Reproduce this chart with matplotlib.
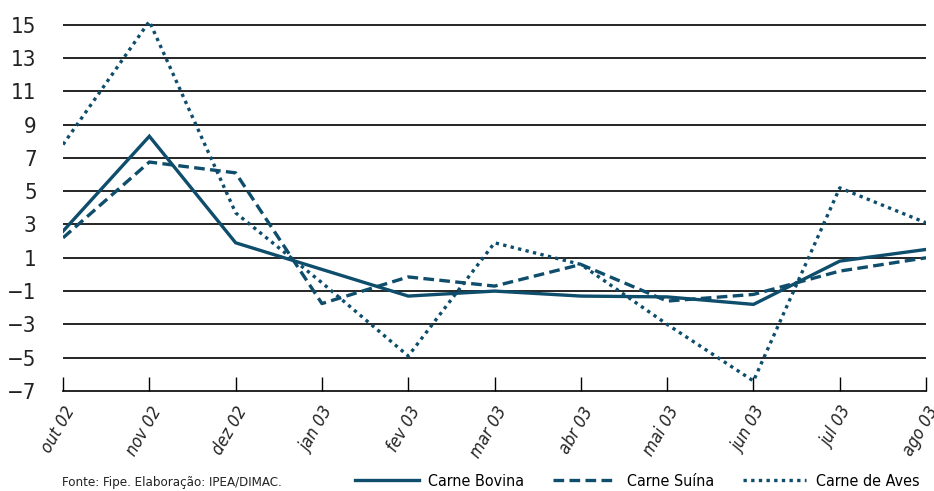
import matplotlib.pyplot as plt

# data
months = ['out 02', 'nov 02', 'dez 02', 'jan 03', 'fev 03', 'mar 03',
          'abr 03', 'mai 03', 'jun 03', 'jul 03', 'ago 03']
bovina = [2.6, 8.3, 1.9, 0.3, -1.3, -1.0, -1.3, -1.35, -1.8, 0.8, 1.5]
suina = [2.2, 6.75, 6.1, -1.75, -0.15, -0.7, 0.6, -1.6, -1.2, 0.2, 1.0]
aves = [7.8, 15.2, 3.7, -0.5, -4.9, 1.9, 0.6, -3.0, -6.4, 5.2, 3.1]
yticks = list(range(-7, 16, 2))

color = '#0e4d6b'
plt.rcParams['font.family'] = ['DejaVu Sans']
plt.rcParams['font.stretch'] = 'condensed'

fig = plt.figure(figsize=(9.34, 4.91), dpi=100)
ax = fig.add_axes([0.0675, 0.2037, 0.924, 0.763])

x = list(range(len(months)))
for y in yticks[1:]:
    ax.axhline(y, color='black', lw=1.2, zorder=1)

ax.plot(x, bovina, color=color, lw=2.4, solid_joinstyle='miter', label='Carne Bovina', zorder=3)
ax.plot(x, suina, color=color, lw=2.4, linestyle=(0, (3.2, 1.6)), dash_capstyle='butt',
        label='Carne Suína', zorder=3)
ax.plot(x, aves, color=color, lw=2.4, linestyle=(0, (1, 1.3)), dash_capstyle='butt',
        label='Carne de Aves', zorder=3)

ax.set_xlim(0, len(months) - 1)
ax.set_ylim(-7, 15.5)
ax.set_yticks(yticks)
ax.set_yticklabels([str(v).replace('-', '\u2212') for v in yticks], fontsize=16, color='#222222')
ax.tick_params(axis='y', length=0, pad=19)

ax.set_xticks(x)
ax.set_xticklabels(months, rotation=60, ha='right', rotation_mode='anchor',
                   fontsize=12.5, style='italic', color='#222222')
ax.tick_params(axis='x', direction='in', length=10, width=1, color='black', pad=9)

for side in ['left', 'right', 'top']:
    ax.spines[side].set_visible(False)
ax.spines['bottom'].set_linewidth(1.2)

fig.text(0.066, 0.01, 'Fonte: Fipe. Elaboração: IPEA/DIMAC.', fontsize=9.5, color='#222222')
fig.legend(loc='lower right', bbox_to_anchor=(1.0, -0.025), ncol=3, frameon=False,
           handlelength=4.0, columnspacing=1.8, handletextpad=0.6, fontsize=11.5)

plt.savefig('out.png', dpi=100)
